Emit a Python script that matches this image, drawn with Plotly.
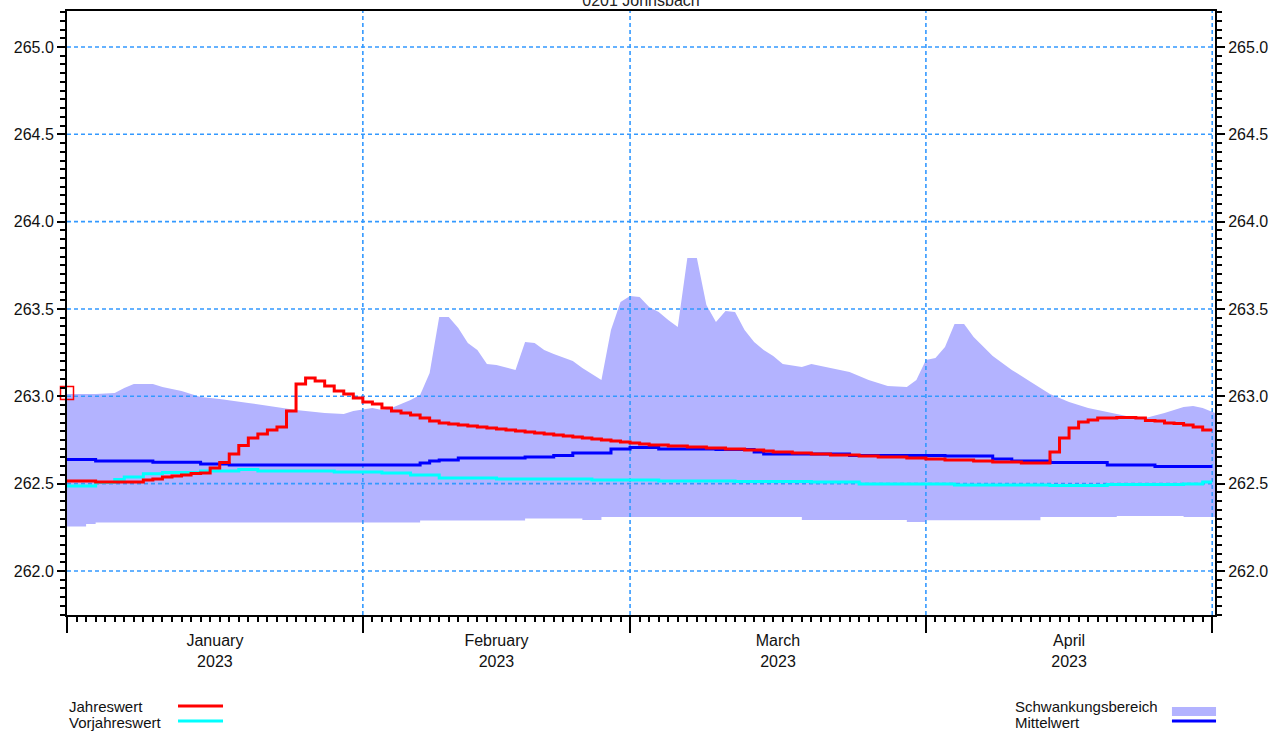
import datetime as dt
import plotly.graph_objects as go

# ---------------------------------------------------------------- data
TITLE = "0201 Johnsbach"
START = dt.datetime(2023, 1, 1)
X_END = "2023-05-01 07:00"
Y_MIN, Y_MAX = 261.748, 265.206

# month boundaries (long ticks + vertical grid) and their labels
month_starts = ["2023-01-01", "2023-02-01", "2023-03-01", "2023-04-01", "2023-05-01"]
month_labels = ["January<br>2023", "February<br>2023", "March<br>2023", "April<br>2023"]
y_levels = [262.0, 262.5, 263.0, 263.5, 264.0, 264.5, 265.0]

# Jahreswert: daily values 2023-01-01 .. 2023-04-30 (m)
current_year = [
    262.515, 262.515, 262.515, 262.510, 262.510, 262.510, 262.510, 262.510,
    262.521, 262.527, 262.538, 262.544, 262.550, 262.558, 262.561, 262.590,
    262.621, 262.670, 262.718, 262.761, 262.784, 262.807, 262.824, 262.916,
    263.071, 263.105, 263.088, 263.059, 263.031, 263.013, 262.991, 262.968,
    262.956, 262.933, 262.916, 262.905, 262.893, 262.876, 262.859, 262.847,
    262.842, 262.836, 262.830, 262.824, 262.819, 262.813, 262.807, 262.802,
    262.796, 262.790, 262.784, 262.779, 262.773, 262.767, 262.761, 262.756,
    262.750, 262.744, 262.739, 262.733, 262.727, 262.721, 262.721, 262.716,
    262.716, 262.710, 262.710, 262.704, 262.704, 262.698, 262.698, 262.693,
    262.693, 262.687, 262.681, 262.681, 262.676, 262.676, 262.670, 262.670,
    262.664, 262.664, 262.664, 262.658, 262.658, 262.653, 262.653, 262.653,
    262.647, 262.647, 262.641, 262.641, 262.635, 262.635, 262.635, 262.630,
    262.630, 262.624, 262.624, 262.624, 262.618, 262.618, 262.618, 262.681,
    262.761, 262.819, 262.853, 262.864, 262.876, 262.876, 262.879, 262.879,
    262.876, 262.862, 262.859, 262.847, 262.844, 262.836, 262.824, 262.807,
]

# Vorjahreswert (step changes)
prev_dates = ["2023-01-01", "2023-01-04", "2023-01-06", "2023-01-07", "2023-01-09",
              "2023-01-11", "2023-01-15", "2023-01-19", "2023-01-21", "2023-01-29",
              "2023-02-03", "2023-02-06", "2023-02-09", "2023-02-15", "2023-02-25",
              "2023-03-04", "2023-03-12", "2023-03-20", "2023-03-25", "2023-04-04",
              "2023-04-14", "2023-04-20", "2023-04-28", "2023-04-30", "2023-05-01"]
prev_values = [262.487, 262.507, 262.524, 262.538, 262.556,
               262.564, 262.573, 262.581, 262.573, 262.567,
               262.561, 262.550, 262.533, 262.527, 262.521,
               262.515, 262.512, 262.510, 262.498, 262.492,
               262.489, 262.495, 262.498, 262.510, 262.510]

# Mittelwert (step changes)
mean_dates = ["2023-01-01", "2023-01-04", "2023-01-10", "2023-01-15", "2023-01-18",
              "2023-02-07", "2023-02-08", "2023-02-09", "2023-02-11", "2023-02-18",
              "2023-02-21", "2023-02-23", "2023-02-27", "2023-03-01", "2023-03-04",
              "2023-03-10", "2023-03-14", "2023-03-15", "2023-03-24", "2023-04-03",
              "2023-04-08", "2023-04-10", "2023-04-14", "2023-04-20", "2023-04-25",
              "2023-05-01"]
mean_values = [262.638, 262.630, 262.622, 262.613, 262.607,
               262.618, 262.630, 262.635, 262.647, 262.653,
               262.661, 262.676, 262.698, 262.707, 262.698,
               262.696, 262.681, 262.670, 262.661, 262.658,
               262.641, 262.630, 262.621, 262.607, 262.598,
               262.598]

# Schwankungsbereich: upper envelope
upper_dates = ["2023-01-01", "2023-01-04", "2023-01-06", "2023-01-07", "2023-01-08",
               "2023-01-10", "2023-01-11", "2023-01-13", "2023-01-15", "2023-01-17",
               "2023-01-20", "2023-01-23", "2023-01-25", "2023-01-28", "2023-01-30",
               "2023-01-31", "2023-02-02", "2023-02-03", "2023-02-04", "2023-02-06",
               "2023-02-07", "2023-02-08", "2023-02-09", "2023-02-10", "2023-02-11",
               "2023-02-12", "2023-02-13", "2023-02-14", "2023-02-15", "2023-02-17",
               "2023-02-18", "2023-02-19", "2023-02-20", "2023-02-21", "2023-02-23",
               "2023-02-24", "2023-02-25", "2023-02-26", "2023-02-27", "2023-02-28",
               "2023-03-01", "2023-03-02", "2023-03-03", "2023-03-04", "2023-03-05",
               "2023-03-06", "2023-03-07", "2023-03-08", "2023-03-09", "2023-03-10",
               "2023-03-11", "2023-03-12", "2023-03-13", "2023-03-14", "2023-03-15",
               "2023-03-16", "2023-03-17", "2023-03-19", "2023-03-20", "2023-03-22",
               "2023-03-24", "2023-03-26", "2023-03-28", "2023-03-30", "2023-03-31",
               "2023-04-01", "2023-04-02", "2023-04-03", "2023-04-04", "2023-04-05",
               "2023-04-06", "2023-04-08", "2023-04-10", "2023-04-12", "2023-04-14",
               "2023-04-16", "2023-04-18", "2023-04-20", "2023-04-22", "2023-04-24",
               "2023-04-26", "2023-04-28", "2023-04-29", "2023-04-30", "2023-05-01",
               "2023-05-01 07:00"]
upper_values = [263.013, 263.013, 263.019, 263.048, 263.071,
                263.071, 263.053, 263.031, 262.996, 262.985,
                262.962, 262.939, 262.922, 262.905, 262.899,
                262.916, 262.933, 262.922, 262.933, 262.979,
                263.008, 263.134, 263.454, 263.454, 263.391,
                263.305, 263.265, 263.185, 263.179, 263.151,
                263.311, 263.305, 263.265, 263.242, 263.202,
                263.162, 263.128, 263.094, 263.380, 263.540,
                263.574, 263.569, 263.511, 263.483, 263.437,
                263.397, 263.792, 263.792, 263.523, 263.426,
                263.489, 263.483, 263.380, 263.311, 263.265,
                263.231, 263.185, 263.168, 263.185, 263.162,
                263.139, 263.094, 263.059, 263.053, 263.094,
                263.208, 263.219, 263.282, 263.414, 263.414,
                263.340, 263.231, 263.151, 263.082, 263.013,
                262.968, 262.933, 262.910, 262.887, 262.876,
                262.905, 262.939, 262.945, 262.933, 262.910,
                262.905]

# Schwankungsbereich: lower envelope (step changes)
lower_dates = ["2023-01-01", "2023-01-03", "2023-01-04", "2023-02-07", "2023-02-18",
               "2023-02-24", "2023-02-26", "2023-03-19", "2023-03-30", "2023-04-01",
               "2023-04-13", "2023-04-21", "2023-04-28", "2023-05-01 07:00"]
lower_values = [262.255, 262.269, 262.278, 262.289, 262.301,
                262.292, 262.309, 262.292, 262.281, 262.290,
                262.309, 262.315, 262.309, 262.309]

# marker at the start of the year
start_marker_value = 263.019

# ---------------------------------------------------------------- styles
RED = "#ff0000"
CYAN = "#00ffff"
BLUE = "#0000ff"
BAND = "#b3b3ff"
GRID = "#3399ff"
FONT = "Liberation Sans, Arial, sans-serif"

days = [START + dt.timedelta(days=i) for i in range(len(current_year))]
cur_x = days + [START + dt.timedelta(days=len(current_year))]
cur_y = current_year + [current_year[-1]]

mid_months = []
for a, b in zip(month_starts[:-1], month_starts[1:]):
    ta, tb = dt.datetime.fromisoformat(a), dt.datetime.fromisoformat(b)
    mid_months.append(ta + (tb - ta) / 2)

fig = go.Figure()

# band
fig.add_trace(go.Scatter(x=lower_dates, y=lower_values, mode="lines",
                         line=dict(width=0, shape="hv", color=BAND),
                         hoverinfo="skip", showlegend=False))
fig.add_trace(go.Scatter(x=upper_dates, y=upper_values, mode="lines",
                         line=dict(width=0, color=BAND), fill="tonexty",
                         fillcolor=BAND, name="Schwankungsbereich", showlegend=False))

# dashed grid drawn above the band, below the lines
gx, gy = [], []
for lv in y_levels:
    gx += [month_starts[0], X_END, None]
    gy += [lv, lv, None]
for m in month_starts[1:]:
    gx += [m, m, None]
    gy += [Y_MIN, Y_MAX, None]
fig.add_trace(go.Scatter(x=gx, y=gy, mode="lines",
                         line=dict(color=GRID, width=1.6, dash="4px,3px"),
                         hoverinfo="skip", showlegend=False))

fig.add_trace(go.Scatter(x=prev_dates, y=prev_values, mode="lines",
                         line=dict(color=CYAN, width=3, shape="hv"),
                         name="Vorjahreswert", showlegend=False))
fig.add_trace(go.Scatter(x=mean_dates, y=mean_values, mode="lines",
                         line=dict(color=BLUE, width=3, shape="hv"),
                         name="Mittelwert", showlegend=False))
fig.add_trace(go.Scatter(x=cur_x, y=cur_y, mode="lines",
                         line=dict(color=RED, width=3, shape="hv"),
                         name="Jahreswert", showlegend=False))
fig.add_trace(go.Scatter(x=[days[0]], y=[start_marker_value], mode="markers",
                         marker=dict(symbol="square-open", size=13, color=RED,
                                     line=dict(width=1.5, color=RED)),
                         cliponaxis=False, showlegend=False, hoverinfo="skip"))

tick_common = dict(ticks="outside", tickcolor="black", tickwidth=2,
                   tickfont=dict(family=FONT, size=16, color="#111111"))

fig.update_layout(
    width=1276, height=731,
    margin=dict(l=67, r=61, t=11, b=116),
    paper_bgcolor="white", plot_bgcolor="white",
    showlegend=False,
    font=dict(family=FONT, size=16, color="#111111"),
    title=dict(text=TITLE, x=0.5, xref="paper", y=1.0, yref="container",
               yanchor="middle", font=dict(family=FONT, size=16, color="#222222")),
    xaxis=dict(type="date", range=[month_starts[0], X_END], showgrid=False,
               zeroline=False, showline=True, linecolor="black", linewidth=2,
               mirror=True, tickmode="array", tickvals=month_starts,
               showticklabels=False, ticklen=16, ticks="outside",
               tickcolor="black", tickwidth=2, automargin=False,
               minor=dict(tickmode="linear", tick0=month_starts[0],
                          dtick=86400000, ticks="outside", ticklen=5,
                          tickwidth=1.5, tickcolor="black", showgrid=False)),
    xaxis3=dict(type="date", overlaying="x", anchor="y", side="bottom",
                range=[month_starts[0], X_END], showgrid=False, zeroline=False,
                showline=False, tickmode="array", tickvals=mid_months,
                ticktext=month_labels, ticks="", ticklabelstandoff=14,
                tickfont=dict(family=FONT, size=16, color="#111111"),
                automargin=False),
    yaxis=dict(range=[Y_MIN, Y_MAX], tickmode="array", tickvals=y_levels,
               ticktext=[f"{v:.1f}" for v in y_levels], ticklen=8,
               showline=True, linecolor="black", linewidth=2, showgrid=False,
               zeroline=False, automargin=False,
               minor=dict(tickmode="linear", tick0=262.0, dtick=0.05,
                          ticks="outside", ticklen=5, tickwidth=1.5,
                          tickcolor="black", showgrid=False),
               **tick_common),
    yaxis2=dict(range=[Y_MIN, Y_MAX], overlaying="y", side="right", anchor="x",
                tickmode="array", tickvals=y_levels,
                ticktext=[f"{v:.1f}" for v in y_levels], ticklen=8,
                showline=True, linecolor="black", linewidth=2, showgrid=False,
                zeroline=False, automargin=False,
                minor=dict(tickmode="linear", tick0=262.0, dtick=0.05,
                           ticks="outside", ticklen=5, tickwidth=1.5,
                           tickcolor="black", showgrid=False),
                **tick_common),
)

# dummy trace so the right-hand axis and the label axis are drawn
fig.add_trace(go.Scatter(x=[None], y=[None], xaxis="x3", yaxis="y2",
                         showlegend=False, hoverinfo="skip"))

# legend blocks below the plot: text on the left, key on the right
legend_rows = [
    ("Jahreswert", 0.0, -0.1523, "line", RED),
    ("Vorjahreswert", 0.0, -0.1772, "line", CYAN),
    ("Schwankungsbereich", 0.824, -0.1523, "rect", BAND),
    ("Mittelwert", 0.824, -0.1772, "line", BLUE),
]
key_x = {0.0: (0.0967, 0.1359), 0.824: (0.9625, 1.0009)}
for text, tx, ty, kind, col in legend_rows:
    fig.add_annotation(text=text, x=tx, y=ty, xref="paper", yref="paper",
                       xanchor="left", yanchor="middle", showarrow=False,
                       font=dict(family=FONT, size=15, color="#111111"))
    k0, k1 = key_x[tx]
    if kind == "line":
        fig.add_shape(type="line", xref="paper", yref="paper", x0=k0, x1=k1,
                      y0=ty + 0.0017, y1=ty + 0.0017, line=dict(color=col, width=3))
    else:
        fig.add_shape(type="rect", xref="paper", yref="paper", x0=k0, x1=k1,
                      y0=ty - 0.0149, y1=ty, line=dict(width=0), fillcolor=col)

fig.write_html("out.html")
